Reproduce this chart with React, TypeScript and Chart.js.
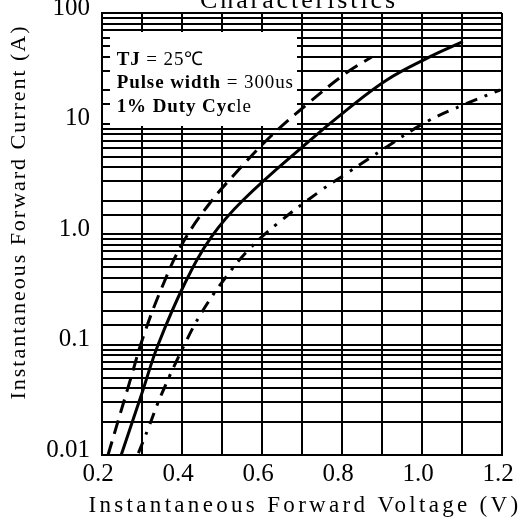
import React, { useEffect, useRef } from 'react';
import { Chart, registerables } from 'chart.js';

Chart.register(...registerables);

// ---- data ----
const dashedV = [0.215, 0.27, 0.303, 0.349, 0.399, 0.466, 0.545, 0.62, 0.7075, 0.812, 0.874];
const dashedI = [0.01, 0.0468, 0.117, 0.323, 0.795, 1.83, 3.93, 7.55, 14.4, 28.9, 40];

const solidV = [0.248, 0.3025, 0.34, 0.4075, 0.474, 0.553, 0.712, 0.812, 0.912, 1.012, 1.102];
const solidI = [0.01, 0.0388, 0.099, 0.36, 0.946, 2.03, 6.65, 13.3, 24.8, 38.9, 55];

const dashDotV = [0.291, 0.316, 0.349, 0.412, 0.453, 0.5075, 0.566, 0.637, 0.749, 0.812, 0.9125, 1.012, 1.112, 1.195];
const dashDotI = [0.0104, 0.01755, 0.0356, 0.11, 0.205, 0.397, 0.716, 1.23, 2.5, 3.54, 6.17, 10.4, 15.2, 20.1];

const xTickValues = [0.2, 0.4, 0.6, 0.8, 1.0, 1.2];
const xTickLabels = ['0.2', '0.4', '0.6', '0.8', '1.0', '1.2'];
const yTickValues = [0.01, 0.1, 1, 10, 100];
const yTickLabels = ['0.01', '0.1', '1.0', '10', '100'];

const chartTitle = 'Characteristics';
const xTitle = 'Instantaneous Forward Voltage (V)';
const yTitle = 'Instantaneous Forward Current (A)';
const noteLines: [string, string][] = [
  ['TJ', ' = 25\u2103'],
  ['Pulse width', ' = 300us'],
  ['1% Duty Cyc', 'le'],
];

const FONT = "'Liberation Serif', 'Times New Roman', serif";

function drawSpaced(ctx: CanvasRenderingContext2D, text: string, cx: number, y: number, target: number) {
  (ctx as any).letterSpacing = '0px';
  const w0 = ctx.measureText(text).width;
  const sp = Math.max(0, (target - w0) / text.length);
  (ctx as any).letterSpacing = sp + 'px';
  ctx.textAlign = 'left';
  ctx.fillText(text, cx - target / 2, y);
  (ctx as any).letterSpacing = '0px';
}

const textPlugin = {
  id: 'refTexts',
  beforeDatasetsDraw(chart: any) {
    const ctx: CanvasRenderingContext2D = chart.ctx;
    const a = chart.chartArea;
    ctx.save();
    ctx.fillStyle = '#ffffff';
    ctx.fillRect(a.left + 8, a.top + 19, 187, 94);
    ctx.fillStyle = '#000000';
    ctx.textBaseline = 'alphabetic';
    ctx.textAlign = 'left';
    (ctx as any).letterSpacing = '0.9px';
    const baselines = [51.5, 75.3, 98.7];
    noteLines.forEach((parts, i) => {
      let x = a.left + 14.7;
      const y = a.top + baselines[i];
      ctx.font = `bold 19px ${FONT}`;
      ctx.fillText(parts[0], x, y);
      x += ctx.measureText(parts[0]).width;
      ctx.font = `19px ${FONT}`;
      ctx.fillText(parts[1], x, y);
    });
    (ctx as any).letterSpacing = '0px';
    ctx.restore();
  },
  afterDraw(chart: any) {
    const ctx: CanvasRenderingContext2D = chart.ctx;
    ctx.save();
    ctx.fillStyle = '#000000';
    ctx.textBaseline = 'alphabetic';
    // cut-off chart title
    ctx.font = `26px ${FONT}`;
    drawSpaced(ctx, chartTitle, 299, 8, 198);
    // x axis title
    ctx.font = `23px ${FONT}`;
    drawSpaced(ctx, xTitle, 305, 512, 433);
    // y axis title
    ctx.save();
    ctx.translate(25, 212);
    ctx.rotate(-Math.PI / 2);
    ctx.font = `22px ${FONT}`;
    drawSpaced(ctx, yTitle, 0, 0, 375);
    ctx.restore();
    ctx.restore();
  },
};

function toPoints(v: number[], i: number[]) {
  return v.map((x, k) => ({ x, y: i[k] }));
}

export default function App() {
  const ref = useRef<HTMLCanvasElement | null>(null);
  useEffect(() => {
    if (!ref.current) return;
    const common = {
      borderColor: '#000000',
      borderWidth: 3,
      pointRadius: 0,
      fill: false,
      tension: 0.4,
    };
    const chart = new Chart(ref.current, {
      type: 'line',
      data: {
        datasets: [
          { ...common, label: 'dashed', data: toPoints(dashedV, dashedI), borderDash: [14, 8] },
          { ...common, label: 'solid', data: toPoints(solidV, solidI) },
          { ...common, label: 'dashdot', data: toPoints(dashDotV, dashDotI), borderDash: [12, 8, 3, 8] },
        ],
      },
      options: {
        responsive: false,
        animation: false,
        devicePixelRatio: 1,
        layout: { padding: { left: 0, top: 13, right: 28, bottom: 0 } },
        plugins: { legend: { display: false }, title: { display: false }, tooltip: { enabled: false } },
        scales: {
          x: {
            type: 'linear',
            min: 0.2,
            max: 1.2,
            grid: { color: '#000000', lineWidth: 2, drawTicks: false },
            border: { display: true, color: '#000000', width: 2 },
            ticks: {
              stepSize: 0.1,
              autoSkip: false,
              maxRotation: 0,
              padding: 4,
              labelOffset: -4,
              color: '#000000',
              font: { family: FONT, size: 25 },
              callback: (value: any) => {
                const k = xTickValues.findIndex((t) => Math.abs(t - Number(value)) < 1e-6);
                return k >= 0 ? xTickLabels[k] : '';
              },
            },
            afterFit: (s: any) => {
              s.height = 70;
              s.paddingLeft = 0;
              s.paddingRight = 0;
            },
          },
          y: {
            type: 'logarithmic',
            min: 0.01,
            max: 100,
            grid: { color: '#000000', lineWidth: 2, drawTicks: false },
            border: { display: true, color: '#000000', width: 2 },
            ticks: {
              autoSkip: false,
              padding: 12,
              labelOffset: -5,
              color: '#000000',
              font: { family: FONT, size: 25 },
              callback: (value: any) => {
                const v = Number(value);
                const k = yTickValues.findIndex((t) => Math.abs(Math.log10(t) - Math.log10(v)) < 1e-6);
                return k >= 0 ? yTickLabels[k] : '';
              },
            },
            afterFit: (s: any) => {
              s.width = 102;
              s.paddingTop = 0;
              s.paddingBottom = 0;
            },
          },
        },
      } as any,
      plugins: [textPlugin],
    });
    return () => chart.destroy();
  }, []);
  return (
    <div style={{ position: 'fixed', left: 0, top: 0, width: 530, height: 525, background: '#fff' }}>
      <canvas ref={ref} width={530} height={525} style={{ width: 530, height: 525, display: 'block' }} />
    </div>
  );
}
